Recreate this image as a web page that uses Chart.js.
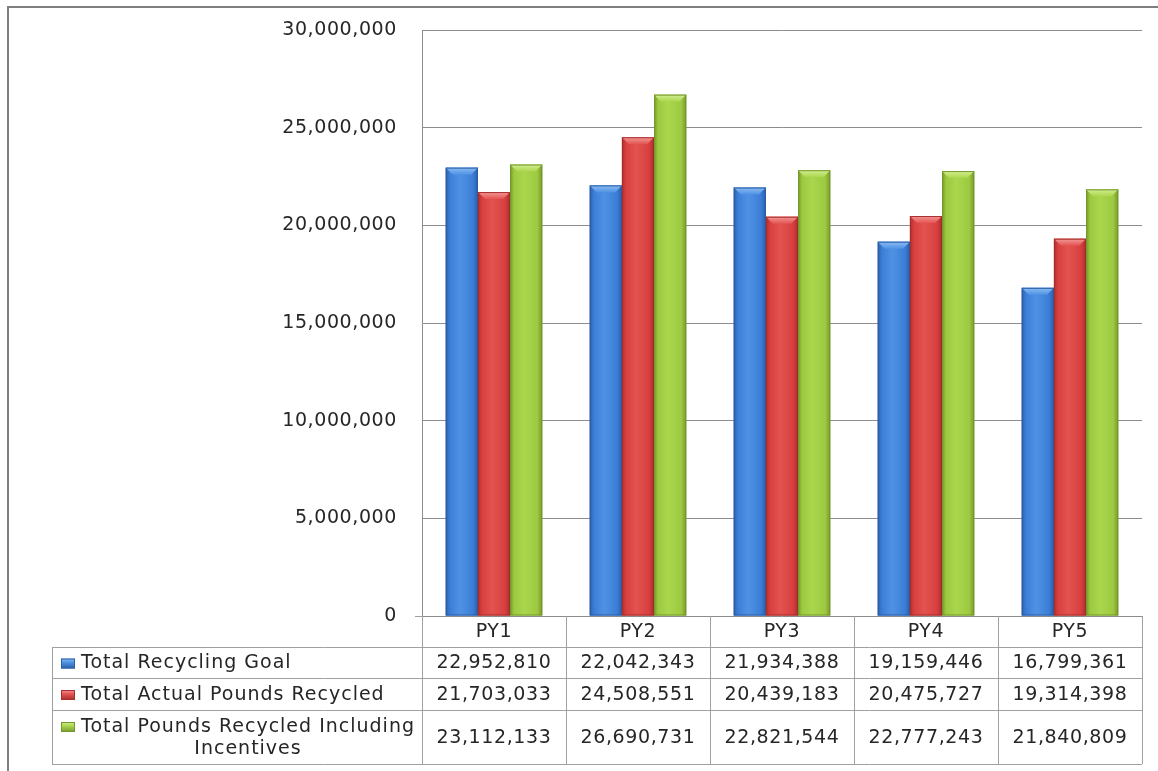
<!DOCTYPE html>
<html><head><meta charset="utf-8">
<script src="https://cdn.jsdelivr.net/npm/chart.js@4/dist/chart.umd.min.js"></script>
<style>html,body{margin:0;padding:0;background:#fff}#wrap{width:1158px;height:771px;position:relative}</style>
</head><body><div id="wrap"><canvas id="c"></canvas></div>
<script>
const categories = ['PY1', 'PY2', 'PY3', 'PY4', 'PY5'];
const seriesLabels = ['Total Recycling Goal', 'Total Actual Pounds Recycled', ['Total Pounds Recycled Including', 'Incentives']];
const recyclingGoal = [22952810, 22042343, 21934388, 19159446, 16799361];
const actualRecycled = [21703033, 24508551, 20439183, 20475727, 19314398];
const includingIncentives = [23112133, 26690731, 22821544, 22777243, 21840809];
const yMin = 0, yMax = 30000000, yStep = 5000000;

const palettes = [
  {edge: '#2b5ea8', main: '#3b7dd6', light: '#4f92e4', top: '#8cbcf2'},
  {edge: '#a72e2c', main: '#d73f3d', light: '#e35351', top: '#f29a98'},
  {edge: '#74982f', main: '#9cc93f', light: '#aad64d', top: '#d4ee94'}
];
const FONT = 'DejaVu Sans';
const TXT = '#262626';

function setSpacing(chart, v) { try { chart.ctx.letterSpacing = v || '0.6px'; } catch (e) {} }

const spacingPlugin = {
  id: 'spacing',
  beforeUpdate: c => setSpacing(c),
  beforeLayout: c => setSpacing(c),
  beforeDraw: c => setSpacing(c)
};

function barGradient(ctx, left, right, p) {
  const g = ctx.createLinearGradient(left, 0, right, 0);
  g.addColorStop(0, p.edge);
  g.addColorStop(0.12, p.main);
  g.addColorStop(0.45, p.light);
  g.addColorStop(0.85, p.main);
  g.addColorStop(1, p.edge);
  return g;
}

const barStylePlugin = {
  id: 'barStyle',
  afterDatasetsDraw(chart) {
    const ctx = chart.ctx;
    chart.data.datasets.forEach((ds, di) => {
      const p = palettes[di];
      chart.getDatasetMeta(di).data.forEach(bar => {
        const {x, y, base, width} = bar.getProps(['x', 'y', 'base', 'width'], true);
        const l = x - width / 2, r = x + width / 2;
        ctx.save();
        ctx.fillStyle = barGradient(ctx, l, r, p);
        ctx.fillRect(l, y, width, base - y);
        const b = 7;
        ctx.beginPath();
        ctx.moveTo(l, y); ctx.lineTo(r, y); ctx.lineTo(r - b, y + b); ctx.lineTo(l + b, y + b); ctx.closePath();
        const tg = ctx.createLinearGradient(0, y, 0, y + b);
        tg.addColorStop(0, p.top); tg.addColorStop(1, p.light);
        ctx.fillStyle = tg; ctx.fill();
        ctx.strokeStyle = p.edge; ctx.lineWidth = 1;
        ctx.strokeRect(l + 0.5, y + 0.5, width - 1, base - y - 1);
        ctx.restore();
      });
    });
  }
};

const tablePlugin = {
  id: 'dataTable',
  afterDraw(chart) {
    const ctx = chart.ctx, ca = chart.chartArea, xs = chart.scales.x;
    const n = categories.length;
    const catW = (ca.right - ca.left) / n;
    const hTop = ca.bottom, hBot = ca.bottom + 31;
    const rowTops = [hBot, hBot + 31, hBot + 63];
    const rowBots = [hBot + 31, hBot + 63, hBot + 117];
    const legLeft = 52;
    const series = [recyclingGoal, actualRecycled, includingIncentives];
    ctx.save();
    ctx.strokeStyle = '#7f7f7f'; ctx.lineWidth = 2;
    ctx.beginPath(); ctx.moveTo(8, 771); ctx.lineTo(8, 7); ctx.lineTo(1158, 7); ctx.stroke();
    ctx.strokeStyle = '#a0a0a0'; ctx.lineWidth = 1;
    ctx.beginPath();
    [hBot, rowBots[0], rowBots[1], rowBots[2]].forEach(yy => {
      ctx.moveTo(legLeft, Math.round(yy) + 0.5); ctx.lineTo(ca.right, Math.round(yy) + 0.5);
    });
    for (let i = 0; i <= n; i++) {
      const xx = Math.round(ca.left + i * catW) + 0.5;
      ctx.moveTo(xx, hTop); ctx.lineTo(xx, rowBots[2]);
    }
    ctx.moveTo(legLeft + 0.5, hBot); ctx.lineTo(legLeft + 0.5, rowBots[2]);
    ctx.moveTo(ca.left - 7, Math.round(ca.bottom) + 0.5); ctx.lineTo(ca.left, Math.round(ca.bottom) + 0.5);
    ctx.stroke();
    ctx.fillStyle = TXT;
    ctx.font = '19px "' + FONT + '"';
    ctx.textAlign = 'center'; ctx.textBaseline = 'middle';
    setSpacing(chart, '0.6px');
    categories.forEach((c, i) => ctx.fillText(c, xs.getPixelForValue(i), (hTop + hBot) / 2 + 1));
    series.forEach((vals, r) => {
      const cy = (rowTops[r] + rowBots[r]) / 2 + 1;
      setSpacing(chart, '0.6px');
      ctx.textAlign = 'center';
      vals.forEach((v, i) => ctx.fillText(v.toLocaleString('en-US'), xs.getPixelForValue(i), cy));
      const p = palettes[r];
      const kx = 61, ky = (r === 2 ? cy - 11 : cy) - 5;
      const kg = ctx.createLinearGradient(0, ky, 0, ky + 10);
      kg.addColorStop(0, p.top); kg.addColorStop(0.4, p.light); kg.addColorStop(1, p.edge);
      ctx.fillStyle = kg; ctx.fillRect(kx, ky, 14, 10);
      ctx.strokeStyle = p.edge; ctx.strokeRect(kx + 0.5, ky + 0.5, 13, 9);
      ctx.fillStyle = TXT;
      setSpacing(chart, '1px');
      const lab = seriesLabels[r];
      if (Array.isArray(lab)) {
        ctx.textAlign = 'left';
        ctx.fillText(lab[0], 81, cy - 11);
        ctx.textAlign = 'center';
        ctx.fillText(lab[1], 248, cy + 11);
      } else {
        ctx.textAlign = 'left';
        ctx.fillText(lab, 81, cy);
      }
    });
    ctx.restore();
  }
};

new Chart(document.getElementById('c'), {
  type: 'bar',
  data: {
    labels: categories,
    datasets: [
      {label: 'Total Recycling Goal', data: recyclingGoal, backgroundColor: palettes[0].main},
      {label: 'Total Actual Pounds Recycled', data: actualRecycled, backgroundColor: palettes[1].main},
      {label: 'Total Pounds Recycled Including Incentives', data: includingIncentives, backgroundColor: palettes[2].main}
    ]
  },
  options: {
    responsive: true,
    maintainAspectRatio: false,
    animation: false,
    events: [],
    layout: {padding: {top: 30, right: 16, bottom: 155, left: 0}},
    datasets: {bar: {categoryPercentage: 0.67, barPercentage: 1.0}},
    plugins: {legend: {display: false}, tooltip: {enabled: false}, title: {display: false}},
    scales: {
      x: {display: false},
      y: {
        min: yMin, max: yMax,
        afterFit(s) { s.width = 422; s.paddingTop = 0; s.paddingBottom = 0; },
        ticks: {
          stepSize: yStep, padding: 25, color: TXT,
          font: {family: FONT, size: 19},
          callback: v => Number(v).toLocaleString('en-US')
        },
        grid: {color: '#8c8c8c', lineWidth: 1, drawTicks: false},
        border: {display: true, color: '#8c8c8c', width: 1}
      }
    }
  },
  plugins: [spacingPlugin, barStylePlugin, tablePlugin]
});
</script>
</body></html>
